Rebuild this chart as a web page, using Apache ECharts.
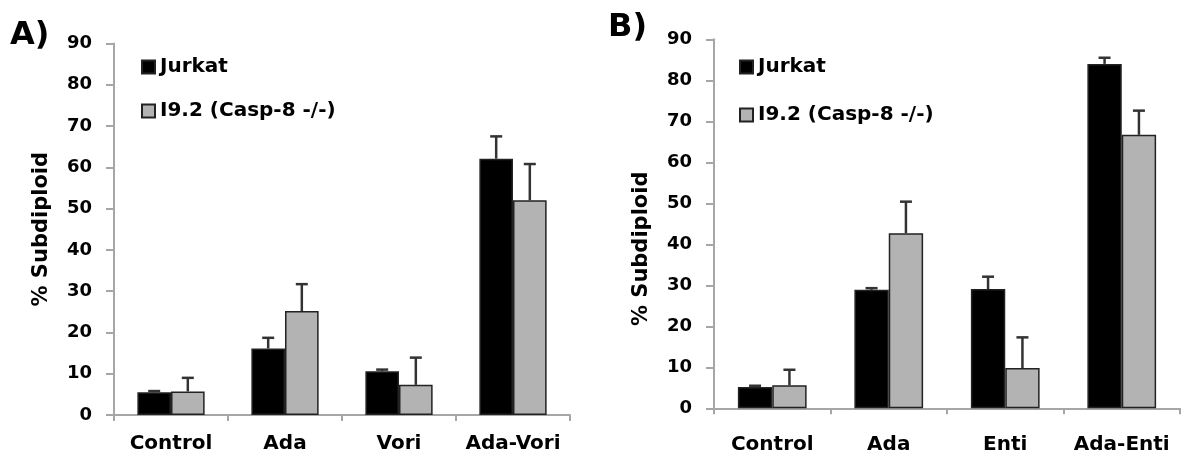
<!DOCTYPE html>
<html>
<head>
<meta charset="utf-8">
<script src="https://cdn.jsdelivr.net/npm/echarts@6/dist/echarts.min.js"></script>
<style>
html,body{margin:0;padding:0;background:#fff;}
#chart{width:1181px;height:456px;}
</style>
</head>
<body>
<div id="chart"></div>
<script>
// ---- data ----
var categoriesA = ['Control', 'Ada', 'Vori', 'Ada-Vori'];
var jurkatA = [5.5, 16.1, 10.6, 62.1];
var jurkatAErr = [0.3, 2.6, 0.4, 5.4];
var i92A = [5.7, 25.2, 7.3, 52.0];
var i92AErr = [3.3, 6.5, 6.6, 8.8];

var categoriesB = ['Control', 'Ada', 'Enti', 'Ada-Enti'];
var jurkatB = [5.2, 28.9, 29.1, 84.0];
var jurkatBErr = [0.3, 0.4, 3.0, 1.5];
var i92B = [5.6, 42.7, 9.8, 66.7];
var i92BErr = [3.8, 7.7, 7.5, 5.9];

var seriesNames = ['Jurkat', 'I9.2 (Casp-8 -/-)'];
var yTicks = [0, 10, 20, 30, 40, 50, 60, 70, 80, 90];
var panelLabels = ['A)', 'B)'];
var axisTitle = '% Subdiploid';

// ---- styling ----
var FONT = 'DejaVu Sans, Liberation Sans, Arial, sans-serif';
var AXIS_COLOR = '#a6a6a6';
var GAP = 0.41;
var GRAY = '#b3b3b3';

function errData(vals, errs) {
  return vals.map(function (v, i) { return [i, v, errs[i]]; });
}

function errRender(sign) {
  return function (params, api) {
    var idx = api.value(0);
    var v = api.value(1);
    var e = api.value(2);
    var p0 = api.coord([idx, v]);
    var p1 = api.coord([idx, v + e]);
    var band = api.size([1, 0])[0];
    var barW = band * (1 - GAP) / 2;
    var cx = p0[0] + sign * barW / 2;
    var cap = 6;
    var st = { stroke: '#333', lineWidth: 2.5 };
    return {
      type: 'group',
      children: [
        { type: 'line', shape: { x1: cx, y1: p0[1], x2: cx, y2: p1[1] }, style: st },
        { type: 'line', shape: { x1: cx - cap, y1: p1[1], x2: cx + cap, y2: p1[1] }, style: st }
      ]
    };
  };
}

function xAxisCfg(cats, gridIndex, margin) {
  return {
    type: 'category', data: cats, gridIndex: gridIndex,
    axisLine: { show: true, lineStyle: { color: AXIS_COLOR, width: 2 } },
    axisTick: { show: true, length: 6, lineStyle: { color: AXIS_COLOR, width: 2 } },
    axisLabel: { interval: 0, margin: margin, color: '#000', fontSize: 20, fontWeight: 'bold', fontFamily: FONT },
    splitLine: { show: false }
  };
}

function yAxisCfg(gridIndex, namePadding) {
  return {
    type: 'value', gridIndex: gridIndex,
    min: yTicks[0], max: yTicks[yTicks.length - 1], interval: yTicks[1] - yTicks[0],
    name: axisTitle, nameLocation: 'middle', nameRotate: 90, nameGap: 62,
    nameTextStyle: { color: '#000', fontSize: 21, fontWeight: 'bold', fontFamily: FONT, padding: namePadding },
    axisLine: { show: true, lineStyle: { color: AXIS_COLOR, width: 2 } },
    axisTick: { show: true, length: 8, lineStyle: { color: AXIS_COLOR, width: 2 } },
    axisLabel: { margin: 22, color: '#000', fontSize: 18, fontWeight: 'bold', fontFamily: FONT },
    splitLine: { show: false }
  };
}

function barSeries(name, data, color, axisIdx) {
  return {
    type: 'bar', name: name, data: data, xAxisIndex: axisIdx, yAxisIndex: axisIdx,
    barGap: '0%', barCategoryGap: (GAP * 100) + '%',
    itemStyle: { color: color, borderColor: '#222', borderWidth: 1.5 },
    z: 2
  };
}

function errSeries(name, vals, errs, sign, axisIdx) {
  return {
    type: 'custom', name: name + ' err', xAxisIndex: axisIdx, yAxisIndex: axisIdx,
    data: errData(vals, errs), encode: { x: 0, y: 1 },
    renderItem: errRender(sign), z: 3, silent: true
  };
}

var legendText = { color: '#000', fontSize: 20, fontWeight: 'bold', fontFamily: FONT };

var option = {
  backgroundColor: '#fff',
  animation: false,
  title: [
    { text: panelLabels[0], left: 10, top: 20, padding: 0, textStyle: { fontSize: 32, fontWeight: 'bold', color: '#000', fontFamily: FONT } },
    { text: panelLabels[1], left: 608, top: 12, padding: 0, textStyle: { fontSize: 32, fontWeight: 'bold', color: '#000', fontFamily: FONT } }
  ],
  legend: [
    { data: seriesNames, orient: 'vertical', left: 141, top: 57, itemWidth: 13, itemHeight: 13, itemGap: 24, padding: 0, textStyle: legendText, icon: 'rect' },
    { data: seriesNames, orient: 'vertical', left: 739, top: 57, itemWidth: 13, itemHeight: 13, itemGap: 28, padding: 0, textStyle: legendText, icon: 'rect' }
  ],
  grid: [
    { left: 114, top: 43.5, width: 456, height: 371.5 },
    { left: 714, top: 39.3, width: 466, height: 369 }
  ],
  xAxis: [xAxisCfg(categoriesA, 0, 19), xAxisCfg(categoriesB, 1, 26)],
  yAxis: [yAxisCfg(0, [0, 0, 0, 0]), yAxisCfg(1, [0, 50, 0, 0])],
  series: [
    barSeries(seriesNames[0], jurkatA, '#000', 0),
    barSeries(seriesNames[1], i92A, GRAY, 0),
    errSeries(seriesNames[0], jurkatA, jurkatAErr, -1, 0),
    errSeries(seriesNames[1], i92A, i92AErr, 1, 0),
    barSeries(seriesNames[0], jurkatB, '#000', 1),
    barSeries(seriesNames[1], i92B, GRAY, 1),
    errSeries(seriesNames[0], jurkatB, jurkatBErr, -1, 1),
    errSeries(seriesNames[1], i92B, i92BErr, 1, 1)
  ]
};

var chart = echarts.init(document.getElementById('chart'), null, { renderer: 'canvas' });
chart.setOption(option);
</script>
</body>
</html>
